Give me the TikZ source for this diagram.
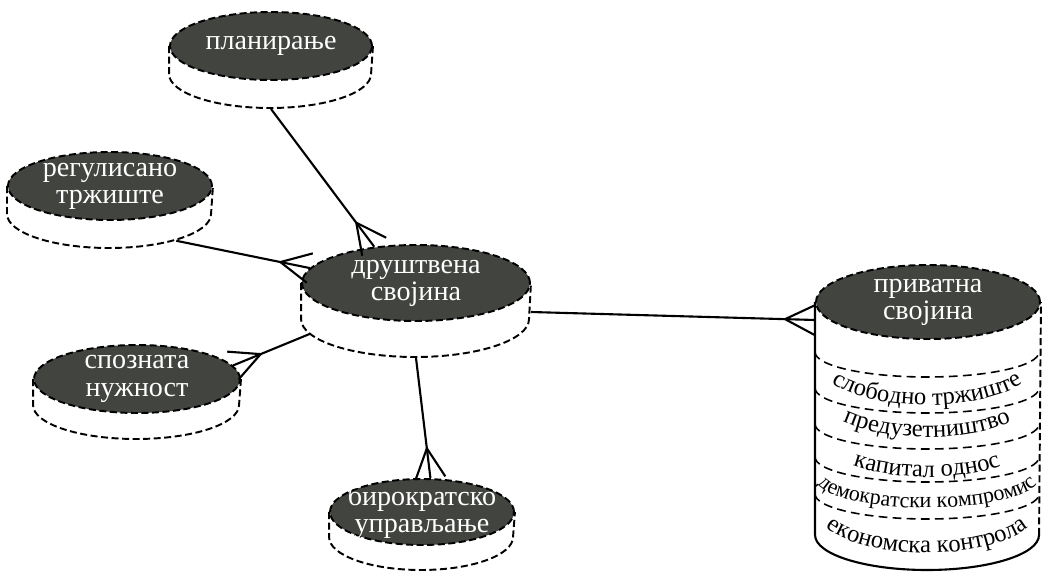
\documentclass[tikz,border=0pt]{standalone}
\usepackage{fontspec}
\setmainfont{Liberation Serif}
\usepackage{tikz}
\usetikzlibrary{shapes.geometric}
\usetikzlibrary{backgrounds}
\usetikzlibrary{calc}
\usetikzlibrary{decorations.text}
\definecolor{topgray}{RGB}{66,68,64}
\tikzset{disktop/.style={ellipse,draw=black,fill=topgray,line width=1.1pt,
   dash pattern=on 4pt off 2pt,inner sep=0pt},
 disktext/.style={text=white,align=center,inner sep=0pt,
   font=\fontsize{16}{15.5}\selectfont},
 diskbody/.style={draw=black,fill=white,line width=1.1pt,dash pattern=on 4pt off 2pt},
 link/.style={draw=black,line width=1.2pt},
 rowline/.style={draw=black,line width=0.9pt,dash pattern=on 5pt off 3pt},
 }
\newcommand{\rowfont}{\fontsize{14}{15}\selectfont}
\newcommand{\smallrowfont}{\fontsize{12.5}{14}\selectfont}
\newcommand{\drawdisk}[4]{\path[diskbody] (#1.west) -- ++(0,-#2) arc (180:360:#3 and #4) -- (#1.east);}
\newcommand{\crowfoot}[2]{\draw[link] ($(#1)!0.6cm!(#2)$) -- ($(#1)!0.3cm!90:(#2)$)
    ($(#1)!0.6cm!(#2)$) -- ($(#1)!0.3cm!-90:(#2)$);}

\begin{document}
\begin{tikzpicture}
        \useasboundingbox (0,0) rectangle (20.86,11.54);
        \node[disktop,minimum width=4.04cm,minimum height=1.36cm,label={[disktext]center:планирање}] (plan) at (5.42,10.62) {};
        \node[disktop,minimum width=4.08cm,minimum height=1.36cm,label={[disktext]center:регулисано\\тржиште}] (reg) at (2.20,7.82) {};
        \node[disktop,minimum width=4.56cm,minimum height=1.52cm,label={[disktext]center:друштвена\\својина}] (drus) at (8.32,5.88) {};
        \node[disktop,minimum width=4.12cm,minimum height=1.36cm,label={[disktext]center:спозната\\нужност}] (spoz) at (2.74,3.96) {};
        \node[disktop,minimum width=3.68cm,minimum height=1.32cm,label={[disktext]center:бирократско\\управљање}] (biro) at (8.44,1.30) {};
        \node[disktop,minimum width=4.48cm,minimum height=1.48cm,label={[disktext]center:приватна\\својина}] (priv) at (18.56,5.50) {};
        \begin{scope}[on background layer]
        \drawdisk{plan}{0.56}{2.02}{0.68}
        \drawdisk{reg}{0.56}{2.04}{0.68}
        \drawdisk{drus}{0.72}{2.28}{0.76}
        \drawdisk{spoz}{0.52}{2.06}{0.68}
        \drawdisk{biro}{0.50}{1.84}{0.66}
        \fill[white] (priv.west) -- ++(0,-4.66) arc (180:360:2.24 and 0.70) -- (priv.east);
        \draw[link] (priv.west) -- ++(0,-4.66) arc (180:360:2.24 and 0.70) coordinate (privbr);
        \draw[diskbody,fill=none] (privbr) -- (priv.east);
        \foreach \d in {1.00,1.72,2.44,3.10,3.84}
            \draw[rowline] ($(priv.west)+(0,-\d)$) arc (180:360:2.24 and 0.5);
        \path[decorate,decoration={text along path,text align=center,text={|\rowfont|слободно тржиште}}] ($(priv.west)+(0,-1.16)$) arc (180:360:2.24 and 0.9);
        \path[decorate,decoration={text along path,text align=center,text={|\rowfont|предузетништво}}] ($(priv.west)+(0,-1.80)$) arc (180:360:2.24 and 0.9);
        \path[decorate,decoration={text along path,text align=center,text={|\rowfont|капитал однос}}] ($(priv.west)+(0,-2.60)$) arc (180:360:2.24 and 0.9);
        \path[decorate,decoration={text along path,text align=center,text={|\smallrowfont|демократски компромис}}] ($(priv.west)+(0,-3.52)$) arc (180:360:2.24 and 0.6);
        \path[decorate,decoration={text along path,text align=center,text={|\rowfont|економска контрола}}] ($(priv.west)+(0,-4.12)$) arc (180:360:2.24 and 0.9);
        \end{scope}
        \coordinate (planout) at ($(plan.south)+(0,-0.56)$);
        \coordinate (regout) at ($(reg.-22)+(0,-0.56)$);
        \coordinate (drusl) at ($(drus.188)+(0,-0.72)$);
        \coordinate (drusb) at ($(drus.south)+(0,-0.72)$);
        \coordinate (drusr) at ($(drus.east)+(0,-0.58)$);
        \coordinate (privin) at ($(priv.west)+(0,-0.36)$);
        \draw[link] (planout) -- (drus.139);
        \crowfoot{drus.139}{planout}
        \draw[link] (regout) -- (drus.172);
        \crowfoot{drus.172}{regout}
        \draw[link] (drusl) -- (spoz.8);
        \crowfoot{spoz.8}{drusl}
        \draw[link] (drusb) -- (biro.76);
        \crowfoot{biro.76}{drusb}
        \draw[link] (drusr) -- (privin);
        \crowfoot{privin}{drusr}
    \end{tikzpicture}
\end{document}
